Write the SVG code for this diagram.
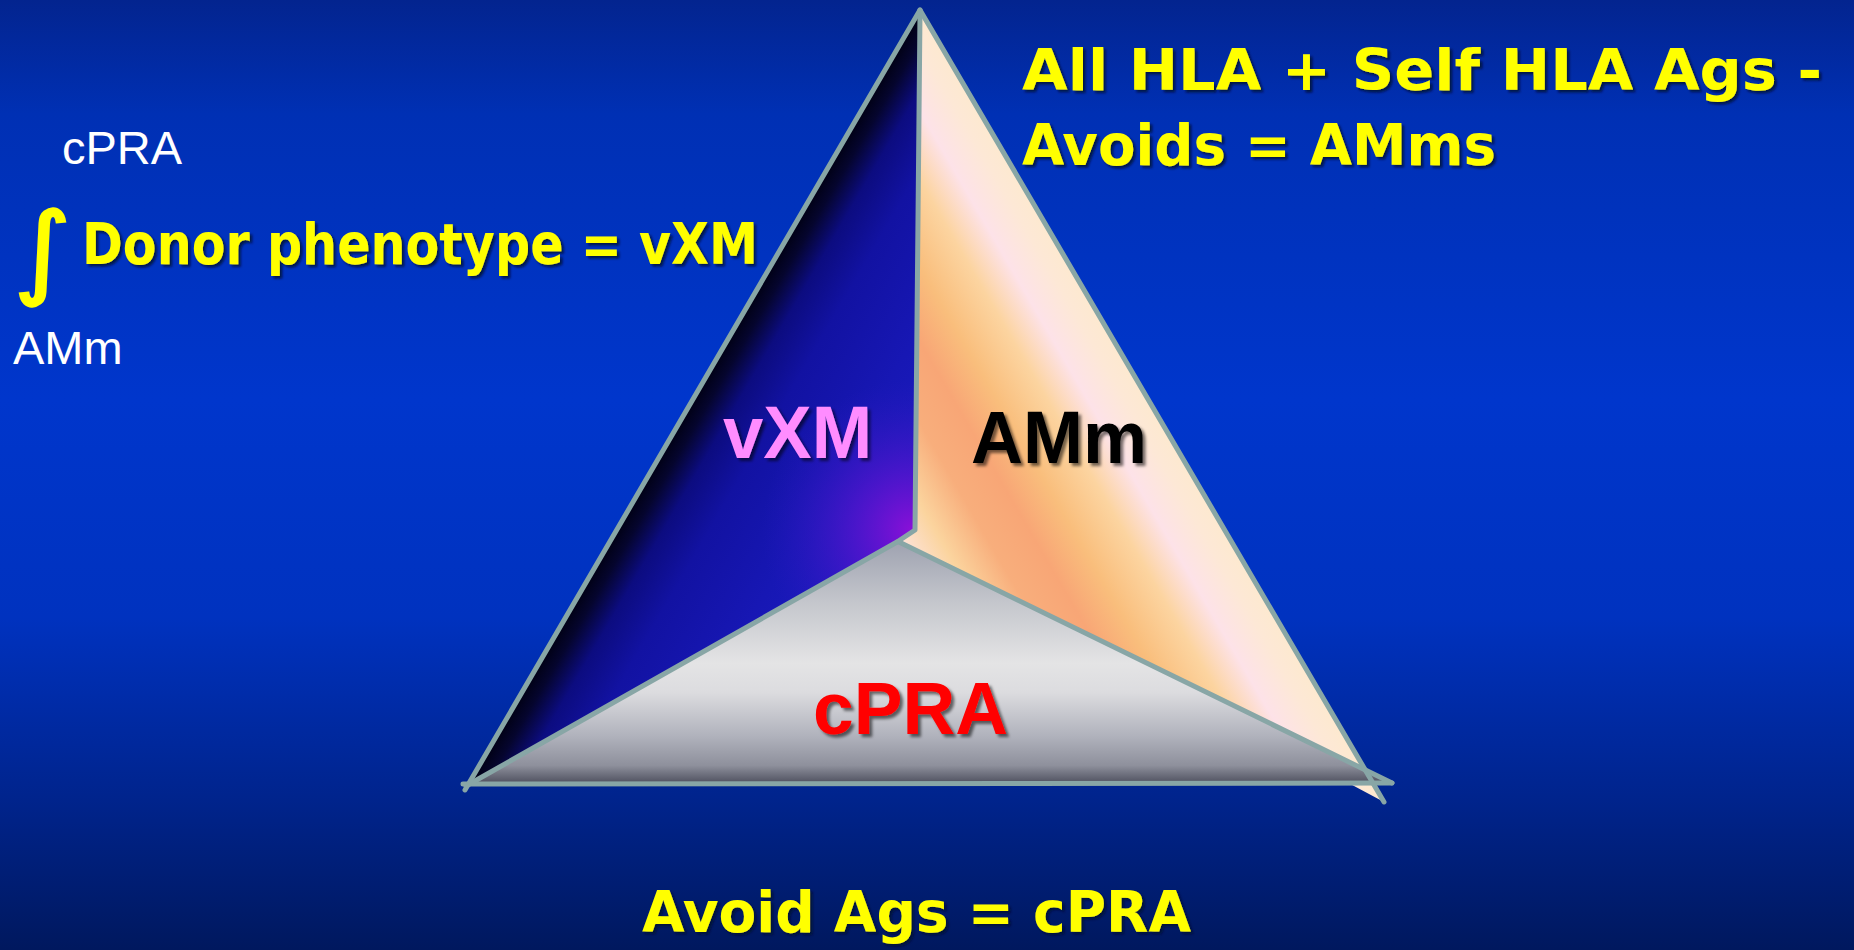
<svg xmlns="http://www.w3.org/2000/svg" width="1854" height="950" viewBox="0 0 1854 950">
<defs>
<linearGradient id="bg" x1="0" y1="0" x2="0" y2="1">
<stop offset="0" stop-color="#03248f"/>
<stop offset="0.12" stop-color="#0030b4"/>
<stop offset="0.42" stop-color="#0036cc"/>
<stop offset="0.65" stop-color="#0032bf"/>
<stop offset="0.85" stop-color="#00238a"/>
<stop offset="1" stop-color="#00185e"/>
</linearGradient>
<linearGradient id="leftG" gradientUnits="userSpaceOnUse" x1="690" y1="400" x2="906" y2="526">
<stop offset="0" stop-color="#000010"/>
<stop offset="0.07" stop-color="#05052e"/>
<stop offset="0.17" stop-color="#0c0c80"/>
<stop offset="0.33" stop-color="#1212a2"/>
<stop offset="0.65" stop-color="#1717b4"/>
<stop offset="1" stop-color="#1c1cc2"/>
</linearGradient>
<radialGradient id="purple" gradientUnits="userSpaceOnUse" cx="912" cy="530" r="150">
<stop offset="0" stop-color="#8a10d8" stop-opacity="1"/>
<stop offset="0.4" stop-color="#5a14d0" stop-opacity="0.7"/>
<stop offset="1" stop-color="#2a18c0" stop-opacity="0"/>
</radialGradient>
<linearGradient id="rightG" gradientUnits="userSpaceOnUse" x1="1160" y1="420" x2="909" y2="566">
<stop offset="0" stop-color="#fde9cf"/>
<stop offset="0.07" stop-color="#fde8d6"/>
<stop offset="0.18" stop-color="#fde2e8"/>
<stop offset="0.30" stop-color="#fcd4a0"/>
<stop offset="0.45" stop-color="#f9be7c"/>
<stop offset="0.58" stop-color="#f8a676"/>
<stop offset="0.72" stop-color="#f8ae7c"/>
<stop offset="0.86" stop-color="#fbd49e"/>
<stop offset="1" stop-color="#fde4e0"/>
</linearGradient>
<linearGradient id="botG" gradientUnits="userSpaceOnUse" x1="0" y1="541" x2="0" y2="785">
<stop offset="0" stop-color="#9ea2b0"/>
<stop offset="0.25" stop-color="#c4c6cc"/>
<stop offset="0.5" stop-color="#e4e4e5"/>
<stop offset="0.62" stop-color="#dcdcdf"/>
<stop offset="0.8" stop-color="#b0b2bc"/>
<stop offset="0.92" stop-color="#8e909c"/>
<stop offset="0.97" stop-color="#626472"/>
<stop offset="1" stop-color="#4a4a58"/>
</linearGradient>
<filter id="sh" x="-10%" y="-20%" width="130%" height="150%">
<feDropShadow dx="3" dy="3" stdDeviation="1.5" flood-color="#000" flood-opacity="0.55"/>
</filter>
<filter id="shy" x="-10%" y="-20%" width="130%" height="150%">
<feDropShadow dx="2.5" dy="2.5" stdDeviation="1.2" flood-color="#000a30" flood-opacity="0.8"/>
</filter>
</defs>
<style>
.edge{fill:none;stroke:#88a6a6;stroke-width:5;stroke-linecap:round;stroke-linejoin:round}
.yel{font-family:"DejaVu Sans","Liberation Sans",sans-serif;font-weight:bold;font-size:57px;fill:#ffff00;filter:url(#shy)}
.wht{font-family:"Liberation Sans",Arial,sans-serif;font-size:47px;fill:#ffffff}
.lbl{font-family:"Liberation Sans",Arial,sans-serif;font-weight:bold;font-size:74px;filter:url(#sh)}
</style>
<rect x="0" y="0" width="1854" height="950" fill="url(#bg)"/>

<g id="face-amm">
<polygon points="920,10 1384,802 899,543 915,530" fill="url(#rightG)"/>
</g>
<g id="face-cpra">
<polygon points="898,542 465,786 1392,783" fill="url(#botG)"/>
</g>
<g id="face-vxm">
<polygon points="920,10 915,530 897,542 465,788" fill="url(#leftG)"/>
<polygon points="920,10 915,530 897,542 465,788" fill="url(#purple)"/>
</g>

<g id="connectors">
<line class="edge" x1="463" y1="784" x2="1392" y2="783"/>
<line class="edge" x1="899" y1="542" x2="1392" y2="783"/>
<line class="edge" x1="897" y1="542" x2="466" y2="786"/>
<polyline class="edge" points="920,12 915,530 897,542"/>
<line class="edge" x1="465" y1="790" x2="920" y2="10"/>
<line class="edge" x1="920" y1="10" x2="1384" y2="802"/>
</g>

<g id="label-vxm"><text class="lbl" x="723" y="458" fill="#ff8cff" textLength="149" lengthAdjust="spacingAndGlyphs">vXM</text></g>
<g id="label-amm"><text class="lbl" x="971" y="463" fill="#000000" textLength="176" lengthAdjust="spacingAndGlyphs">AMm</text></g>
<g id="label-cpra"><text class="lbl" x="813" y="734" fill="#ff0000" textLength="195" lengthAdjust="spacingAndGlyphs">cPRA</text></g>

<g id="formula-vxm">
<text class="wht" x="62" y="164">cPRA</text>
<text x="0" y="0" transform="translate(14,285) scale(1,0.92)" font-family="'DejaVu Sans',sans-serif" font-size="110" fill="#ffff00" stroke="#ffff00" stroke-width="2.5">∫</text>
<text class="wht" x="13" y="364">AMm</text>
<text class="yel" x="82" y="264" textLength="676" lengthAdjust="spacingAndGlyphs">Donor phenotype = vXM</text>
</g>
<g id="formula-amm">
<text class="yel" x="1022" y="90" textLength="800" lengthAdjust="spacingAndGlyphs">All HLA + Self HLA Ags -</text>
<text class="yel" x="1022" y="165" textLength="474" lengthAdjust="spacingAndGlyphs">Avoids = AMms</text>
</g>
<g id="formula-cpra">
<text class="yel" x="642" y="932" textLength="549" lengthAdjust="spacingAndGlyphs">Avoid Ags = cPRA</text>
</g>
</svg>
